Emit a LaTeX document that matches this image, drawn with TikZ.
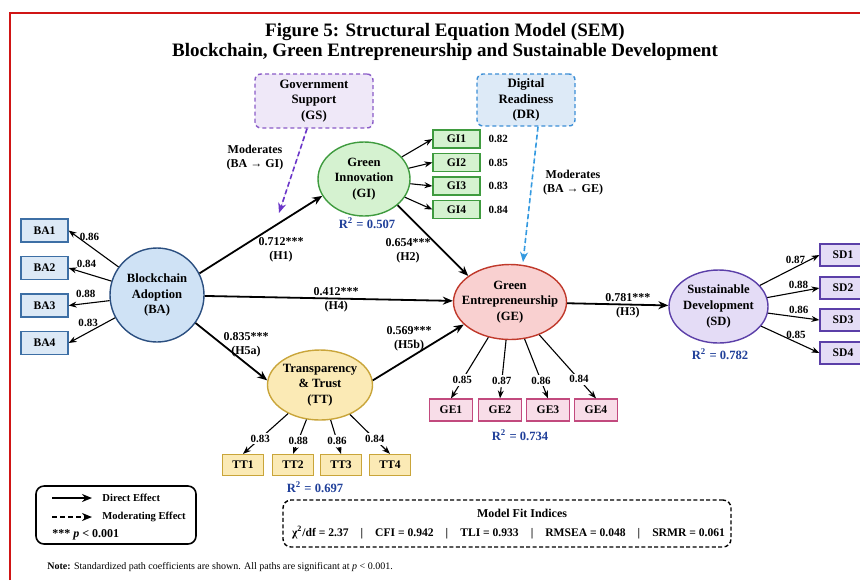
\documentclass[tikz,border=0pt]{standalone}
\usepackage{fontspec}
\setmainfont{Liberation Serif}
\usetikzlibrary{arrows.meta,positioning,shapes.geometric}

\definecolor{framered}{HTML}{D01515}
\definecolor{bafill}{HTML}{CFE2F5}
\definecolor{badraw}{HTML}{2B4F80}
\definecolor{babox}{HTML}{DCE9F6}
\definecolor{baboxdraw}{HTML}{3D6FA5}
\definecolor{gifill}{HTML}{D5F2D0}
\definecolor{gidraw}{HTML}{3F9B3F}
\definecolor{gefill}{HTML}{F9D0D0}
\definecolor{gedraw}{HTML}{C0392B}
\definecolor{gebox}{HTML}{F8DDE8}
\definecolor{geboxdraw}{HTML}{C24A7E}
\definecolor{ttfill}{HTML}{FBEAB5}
\definecolor{ttdraw}{HTML}{C9A53A}
\definecolor{sdfill}{HTML}{E4DCF6}
\definecolor{sddraw}{HTML}{5B3FA8}
\definecolor{gsfill}{HTML}{EFE8F8}
\definecolor{gsdraw}{HTML}{8A5CC8}
\definecolor{gsarrow}{HTML}{6A35C8}
\definecolor{drfill}{HTML}{DDEAF7}
\definecolor{drdraw}{HTML}{3D8FD6}
\definecolor{drarrow}{HTML}{3399E0}
\definecolor{rsqblue}{HTML}{1F3F99}

\tikzset{
  latent/.style={ellipse, draw, line width=0.7pt, inner sep=0pt},
  ltext/.style={font=\fontsize{6.3}{7.8}\selectfont\bfseries, align=center, inner sep=0pt},
  ind/.style={rectangle, draw, line width=0.6pt, inner sep=0pt, font=\fontsize{5.8}{7}\selectfont\bfseries},
  effect/.style={-{Stealth[length=5pt,width=4pt]}, line width=0.9pt},
  load/.style={-{Stealth[length=4pt,width=3pt]}, line width=0.55pt},
  modarrow/.style={-{Stealth[length=5pt,width=4pt]}, line width=0.8pt, dash pattern=on 2.5pt off 1.5pt},
  modbox/.style={draw, rounded corners=3pt, line width=0.7pt, dash pattern=on 2pt off 1.5pt, align=center, inner sep=0pt, font=\fontsize{6.4}{7.7}\selectfont\bfseries},
  lbl/.style={font=\fontsize{5.5}{6.5}\selectfont\bfseries, inner sep=1pt},
  coef/.style={font=\fontsize{6}{7}\selectfont\bfseries, align=center, inner sep=1pt},
  rsq/.style={text=rsqblue, font=\fontsize{6.3}{7}\selectfont\bfseries},
  legtext/.style={font=\fontsize{5.3}{6}\selectfont\bfseries, inner sep=1pt}
}

\begin{document}
\begin{tikzpicture}[x=0.5pt,y=-0.5pt]
\useasboundingbox (0,0) rectangle (860,580);
\draw[framered, line width=1pt] (10,580) -- (10,13) -- (860,13);

\node[align=center, font=\fontsize{9.5}{10}\selectfont\bfseries] (title) at (445,42)
  {Figure 5: Structural Equation Model (SEM)\\Blockchain, Green Entrepreneurship and Sustainable Development};

% moderators
\node[modbox, draw=gsdraw, fill=gsfill, minimum width=59pt, minimum height=27pt] (GS) at (314,101) {Government\\Support\\(GS)};
\node[modbox, draw=drdraw, fill=drfill, minimum width=49pt, minimum height=26pt] (DR) at (526,100) {Digital\\Readiness\\(DR)};

% latent constructs
\node[latent, circle, fill=bafill, draw=badraw, minimum size=47pt,
  label={[ltext]center:Blockchain\\Adoption\\(BA)}] (BA) at (157,295) {};
\node[latent, fill=gifill, draw=gidraw, minimum width=46pt, minimum height=37pt,
  label={[ltext]center:Green\\Innovation\\(GI)}] (GI) at (364,179) {};
\node[latent, fill=gefill, draw=gedraw, minimum width=56.5pt, minimum height=37.5pt,
  label={[ltext]center:Green\\Entrepreneurship\\(GE)}] (GE) at (510,302) {};
\node[latent, fill=ttfill, draw=ttdraw, minimum width=52.5pt, minimum height=35pt,
  label={[ltext]center:Transparency\\\& Trust\\(TT)}] (TT) at (320,385) {};
\node[latent, fill=sdfill, draw=sddraw, minimum width=49.5pt, minimum height=36.5pt,
  label={[ltext]center:Sustainable\\Development\\(SD)}] (SD) at (718.5,306.5) {};

% structural paths
\draw[effect] (BA.27) -- (GI.202);
\draw[effect] (GI.-38) -- (GE.148);
\draw[effect] (BA) -- (GE) node[coef, pos=.53, above] (cH4) {0.412***} node[coef, pos=.53, below] (hH4) {(H4)};
\draw[effect] (GE) -- (SD) node[coef, pos=.6, above] (cH3) {0.781***} node[coef, pos=.6, below] (hH3) {(H3)};
\draw[effect] (BA.-36) -- (TT.175);
\draw[effect] (TT.5) -- (GE.206);
\node[coef] (cH1) at (281,250) {0.712***\\(H1)};
\node[coef] (cH2) at (408,251) {0.654***\\(H2)};
\node[coef] (cH5a) at (246,345) {0.835***\\(H5a)};
\node[coef] (cH5b) at (409,339) {0.569***\\(H5b)};

% moderating effects
\coordinate (mGI) at (279,213);
\coordinate (mGE) at (523,262);
\draw[modarrow, draw=gsarrow, fill=gsarrow] ([xshift=-3.5pt]GS.south) -- (mGI);
\draw[modarrow, draw=drarrow, fill=drarrow] ([xshift=6pt]DR.south) -- (mGE);
\node[coef] (tGS) at (255,158) {Moderates\\(BA → GI)};
\node[coef] (tDR) at (573,183) {Moderates\\(BA → GE)};

% indicators
\foreach \i/\y/\v in {1/230.5/0.86,2/268/0.84,3/305.5/0.88,4/343/0.83}{
  \node[ind, fill=babox, draw=baboxdraw, minimum width=23.5pt, minimum height=11.5pt] (ba\i) at (44.5,\y) {BA\i};
  \draw[load] (BA) -- (ba\i.east) node[lbl, pos=.58, above=1.5pt] (lba\i) {\v};
}
\foreach \i/\y/\v in {1/139/0.82,2/162.5/0.85,3/186/0.83,4/209.5/0.84}{
  \node[ind, fill=gifill, draw=gidraw, minimum width=23.5pt, minimum height=9pt] (gi\i) at (456.5,\y) {GI\i};
  \node[lbl, right=2.8pt of gi\i] (lgi\i) {\v};
  \draw[load] (GI) -- (gi\i.west);
}
\foreach \i/\x/\v in {1/451/0.85,2/500/0.87,3/548/0.86,4/596/0.84}{
  \node[ind, fill=gebox, draw=geboxdraw, minimum width=21.5pt, minimum height=11pt] (ge\i) at (\x,410) {GE\i};
  \draw[load] (GE) -- (ge\i.north) node[lbl, fill=white, pos=.7] (lge\i) {\v};
}
\foreach \i/\x/\v in {1/243/0.83,2/293/0.88,3/341/0.86,4/390/0.84}{
  \node[ind, fill=ttfill, draw=ttdraw, minimum width=20.5pt, minimum height=10.5pt] (tt\i) at (\x,465) {TT\i};
  \draw[load] (TT) -- (tt\i.north) node[lbl, fill=white, pos=.62] (ltt\i) {\v};
}
\foreach \i/\y/\v in {1/255/0.87,2/288/0.88,3/320/0.86,4/353/0.85}{
  \node[ind, fill=sdfill, draw=sddraw, minimum width=23pt, minimum height=11pt] (sd\i) at (843,\y) {SD\i};
  \draw[load] (SD) -- (sd\i.west) node[lbl, pos=.6, above=0.5pt] (lsd\i) {\v};
}

\node[rsq] (rGI) at (367,223) {R\textsuperscript{2} = 0.507};
\node[rsq] (rGE) at (520,435) {R\textsuperscript{2} = 0.734};
\node[rsq] (rSD) at (720,354) {R\textsuperscript{2} = 0.782};
\node[rsq] (rTT) at (315,487) {R\textsuperscript{2} = 0.697};

% legend
\node[draw, rounded corners=4pt, line width=0.8pt, minimum width=80pt, minimum height=29pt] (legend) at (116,515) {};
\coordinate (ld1) at (52,498); \coordinate (ld2) at (92,498);
\coordinate (lm1) at (52,517); \coordinate (lm2) at (92,517);
\draw[effect] (ld1) -- (ld2);
\draw[effect, dash pattern=on 2.5pt off 1.5pt] (lm1) -- (lm2);
\node[legtext, anchor=west] (lgD) at (100,498) {Direct Effect};
\node[legtext, anchor=west] (lgM) at (100,517) {Moderating Effect};
\node[legtext, anchor=west, font=\fontsize{6}{7}\selectfont\bfseries] (lgP) at (50,535) {*** \textit{p} < 0.001};

% model fit
\node[draw, rounded corners=4pt, line width=0.7pt, dash pattern=on 2pt off 1.2pt, minimum width=224pt, minimum height=23.5pt] (fit) at (507,523.5) {};
\node[font=\fontsize{6}{7}\selectfont\bfseries, inner sep=0pt] (fitT) at (522,513) {Model Fit Indices};
\node[font=\fontsize{5.8}{7}\selectfont\bfseries, inner sep=0pt] (fitR) at (508.5,533)
  {χ\textsuperscript{2}/df = 2.37\hspace{6pt}|\hspace{6pt}CFI = 0.942\hspace{6pt}|\hspace{6pt}TLI = 0.933\hspace{6pt}|\hspace{6pt}RMSEA = 0.048\hspace{6pt}|\hspace{6pt}SRMR = 0.061};

\node[anchor=west, font=\fontsize{5}{6}\selectfont, inner sep=0pt] (note) at (47,567)
  {\textbf{Note:} Standardized path coefficients are shown. All paths are significant at \textit{p} < 0.001.};
\end{tikzpicture}
\end{document}
